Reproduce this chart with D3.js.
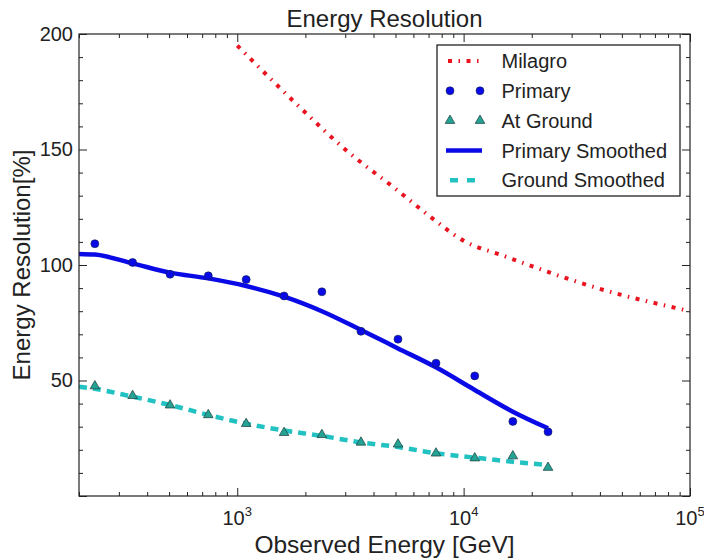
<!DOCTYPE html>
<html>
<head>
<meta charset="utf-8">
<script src="https://cdn.jsdelivr.net/npm/d3@7"></script>
<style>
  body { margin: 0; background: #fff; }
  svg { display: block; }
  text { font-family: "Liberation Sans", Arial, Helvetica, sans-serif; fill: #222; }
</style>
</head>
<body>
<svg id="chart" width="704" height="560"></svg>
<script>
// Observed energy bins (GeV)
const energies = [235, 345, 505, 745, 1095, 1610, 2365, 3520, 5130, 7550, 11200, 16500, 23600];
// Energy resolution (%) per bin
const primary  = [109.2, 101.1, 96.0, 95.3, 93.7, 86.6, 88.4, 71.3, 67.9, 57.5, 52.0, 32.3, 27.8];
const atGround = [47.6, 43.4, 39.3, 35.1, 31.3, 27.4, 26.5, 23.2, 22.4, 18.5, 16.4, 17.3, 12.3];

// Smoothed curves, starting at the lower plot edge
const smoothEnergies  = [200, 235, 345, 505, 745, 1095, 1610, 2365, 3520, 5130, 7550, 11200, 16500, 23600];
const primarySmoothed = [104.8, 104.5, 100.7, 96.7, 94.2, 90.9, 86.3, 80.0, 71.9, 63.9, 55.7, 45.9, 36.5, 29.3];
const groundSmoothed  = [47.3, 46.4, 43.0, 39.4, 35.1, 31.3, 28.4, 26.0, 23.2, 21.2, 18.5, 16.6, 14.8, 13.4];

// Milagro reference resolution
const milagroEnergies = [1000, 2000, 3000, 5000, 7000, 10000, 15000, 20000, 30000, 50000, 70000, 100000];
const milagro         = [195, 166, 150, 133, 121.5, 110.5, 104, 99.5, 93.5, 87, 83.5, 80];

const yTickValues = [50, 100, 150, 200];
const xTickValues = [1e3, 1e4, 1e5];
const xTickExponents = ["3", "4", "5"];
const legendLabels = ["Milagro", "Primary", "At Ground", "Primary Smoothed", "Ground Smoothed"];

const W = 704, H = 560;
const m = { left: 79, top: 34, right: 14, bottom: 64 };
const pw = W - m.left - m.right, ph = H - m.top - m.bottom;

const C = { red: "#ea1420", blue: "#0a0ae6", cyan: "#22c2c2", teal: "#24a394", edge: "#12244a" };

const svg = d3.select("#chart");
const x = d3.scaleLog().domain([200, 1e5]).range([m.left, m.left + pw]);
const y = d3.scaleLinear().domain([0, 200]).range([m.top + ph, m.top]);

svg.append("defs").append("clipPath").attr("id", "plot")
  .append("rect").attr("x", m.left).attr("y", m.top).attr("width", pw).attr("height", ph);

// minor tick positions
const xMinor = [];
[100, 1000, 10000].forEach(d => { for (let k = 2; k <= 9; k++) { const v = d * k; if (v >= 200 && v < 1e5) xMinor.push(v); } });
const yMinor = d3.range(10, 200, 10).filter(v => v % 50 !== 0);
const yMajor = [0, 50, 100, 150, 200];

function ticks(axisFn, scale, values, size, tx, ty) {
  const g = svg.append("g").attr("transform", `translate(${tx},${ty})`)
    .call(axisFn(scale).tickValues(values).tickSize(-size).tickFormat(""));
  g.select(".domain").remove();
  g.selectAll("line").attr("stroke", "#222").attr("stroke-width", 1);
  return g;
}
ticks(d3.axisBottom, x, xMinor, 4, 0, m.top + ph);
ticks(d3.axisBottom, x, xTickValues, 8, 0, m.top + ph);
ticks(d3.axisTop, x, xMinor, 4, 0, m.top);
ticks(d3.axisTop, x, xTickValues, 8, 0, m.top);
ticks(d3.axisLeft, y, yMinor, 4, m.left, 0);
ticks(d3.axisRight, y, yMinor, 4, m.left + pw, 0);
ticks(d3.axisRight, y, yMajor, 8, m.left + pw, 0);

// left axis with labels
const gl = svg.append("g").attr("transform", `translate(${m.left},0)`)
  .call(d3.axisLeft(y).tickValues(yMajor).tickSize(-8).tickPadding(6)
    .tickFormat(d => yTickValues.includes(d) ? d : ""));
gl.select(".domain").remove();
gl.selectAll("line").attr("stroke", "#222");
gl.selectAll("text").attr("font-size", 20).attr("font-family", null).attr("fill", "#222");

// x tick labels as powers of ten
xTickValues.forEach((v, i) => {
  const t = svg.append("text").attr("x", x(v)).attr("y", 525)
    .attr("text-anchor", "middle").attr("font-size", 20);
  t.append("tspan").text("10");
  t.append("tspan").attr("dy", -9).attr("font-size", 13).text(xTickExponents[i]);
});

// data layer
const plot = svg.append("g").attr("clip-path", "url(#plot)");
const line = d3.line().x(d => x(d[0])).y(d => y(d[1])).curve(d3.curveMonotoneX);

plot.append("path").datum(d3.zip(milagroEnergies, milagro))
  .attr("d", line).attr("fill", "none").attr("stroke", C.red)
  .attr("stroke-width", 4).attr("stroke-dasharray", "4,6.5,1.5,6.5");

plot.append("path").datum(d3.zip(smoothEnergies, primarySmoothed))
  .attr("d", line).attr("fill", "none").attr("stroke", C.blue).attr("stroke-width", 4.5);

plot.append("path").datum(d3.zip(smoothEnergies, groundSmoothed))
  .attr("d", line).attr("fill", "none").attr("stroke", C.cyan)
  .attr("stroke-width", 4.5).attr("stroke-dasharray", "8,6");

const tri = d3.symbol().type(d3.symbolTriangle).size(40);

plot.selectAll("circle.p").data(d3.zip(energies, primary)).join("circle")
  .attr("cx", d => x(d[0])).attr("cy", d => y(d[1])).attr("r", 4)
  .attr("fill", C.blue).attr("stroke", C.edge).attr("stroke-width", 0.6);

plot.selectAll("path.g").data(d3.zip(energies, atGround)).join("path")
  .attr("transform", d => `translate(${x(d[0])},${y(d[1])})`).attr("d", tri)
  .attr("fill", C.teal).attr("stroke", "#1a3a3a").attr("stroke-width", 0.7);

// frame
svg.append("rect").attr("x", m.left).attr("y", m.top).attr("width", pw).attr("height", ph)
  .attr("fill", "none").attr("stroke", "#222").attr("stroke-width", 1.2);

// titles
svg.append("text").attr("x", m.left + pw / 2).attr("y", 27).attr("text-anchor", "middle")
  .attr("font-size", 24).text("Energy Resolution");
svg.append("text").attr("x", m.left + pw / 2).attr("y", 553).attr("text-anchor", "middle")
  .attr("font-size", 24.5).text("Observed Energy [GeV]");
svg.append("text").attr("transform", `translate(30,${m.top + ph / 2}) rotate(-90)`)
  .attr("text-anchor", "middle").attr("font-size", 24).text("Energy Resolution[%]");

// legend
const lg = svg.append("g");
lg.append("rect").attr("x", 437).attr("y", 45).attr("width", 243).attr("height", 151)
  .attr("fill", "#fff").attr("stroke", "#222").attr("stroke-width", 1.3);
const x0 = 446, x1 = 482;
legendLabels.forEach((lab, i) => {
  const cy = 61 + i * 29.8;
  lg.append("text").attr("x", 501.5).attr("y", cy).attr("dy", "0.36em")
    .attr("font-size", 20).text(lab);
  if (i === 0) {
    lg.append("line").attr("x1", x0).attr("x2", x1).attr("y1", cy).attr("y2", cy)
      .attr("stroke", C.red).attr("stroke-width", 4).attr("stroke-dasharray", "4,6.5,1.5,6.5")
      .attr("stroke-dashoffset", -2);
  } else if (i === 1) {
    [450, 480].forEach(px => lg.append("circle").attr("cx", px).attr("cy", cy).attr("r", 4)
      .attr("fill", C.blue).attr("stroke", C.edge).attr("stroke-width", 0.6));
  } else if (i === 2) {
    [450, 480].forEach(px => lg.append("path").attr("transform", `translate(${px},${cy})`)
      .attr("d", tri).attr("fill", C.teal).attr("stroke", "#1a3a3a").attr("stroke-width", 0.7));
  } else if (i === 3) {
    lg.append("line").attr("x1", x0).attr("x2", x1).attr("y1", cy).attr("y2", cy)
      .attr("stroke", C.blue).attr("stroke-width", 4.5);
  } else {
    lg.append("line").attr("x1", x0 + 4).attr("x2", x1).attr("y1", cy).attr("y2", cy)
      .attr("stroke", C.cyan).attr("stroke-width", 4.5).attr("stroke-dasharray", "8,9");
  }
});
</script>
</body>
</html>
